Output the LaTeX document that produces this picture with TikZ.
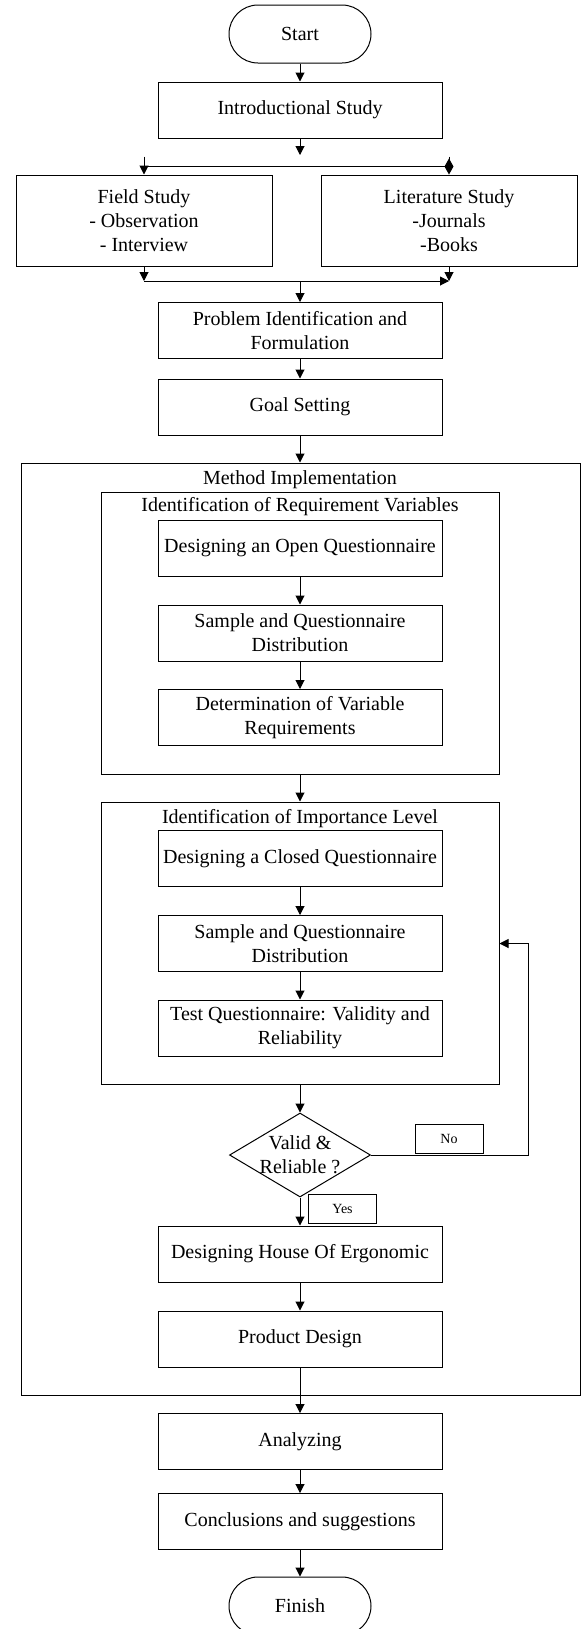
\documentclass[tikz,border=0pt]{standalone}
\usepackage{fontspec}
\setmainfont{Liberation Serif}
\usetikzlibrary{arrows.meta, shapes.geometric}

\begin{document}
\begin{tikzpicture}[x=0.5pt, y=-0.5pt, line width=0.5pt,
    >={Triangle[length=4.5pt,width=4.5pt]},
    every node/.style={font=\fontsize{10}{12}\selectfont},
    box/.style={draw, align=center, inner sep=0pt, minimum width=142pt, minimum height=28pt},
    term/.style={draw, inner sep=0pt, minimum width=71pt, minimum height=29pt, rounded corners=14.5pt},
    study/.style={draw, align=center, inner sep=0pt, minimum width=128pt, minimum height=45.5pt},
    frame/.style={draw, inner sep=0pt},
    tag/.style={draw, inner sep=0pt, minimum width=34pt, minimum height=14.5pt, font=\fontsize{7}{8}\selectfont},
    decision/.style={draw, diamond, inner sep=0pt, minimum width=70.5pt, minimum height=42pt}]

    % picture size, in pixels of the reference
    \useasboundingbox (0,0) rectangle (584,1629);

    % top part
    \node[term] (start) at (300,34) {Start};
    \node[box] (intro) at (300,110) {Introductional Study};
    \node[study] (field) at (144,220.5) {Field Study\\- Observation\\ - Interview};
    \node[study] (lit) at (449,220.5) {Literature Study\\-Journals\\-Books};
    \node[box] (problem) at (300,330.5) {Problem Identification and\\Formulation};
    \node[box] (goal) at (300,407) {Goal Setting};

    % fork and join around the two studies
    \coordinate (split) at (300,155);
    \coordinate (barL) at (144,166);
    \coordinate (barR) at (449,166);
    \coordinate (joinL) at (144,281);
    \coordinate (joinR) at (449,281);
    \coordinate (joinC) at (300,281);

    \draw[->] (start) -- (intro);
    \draw[->] (intro) -- (split);
    \draw (barL) -- (barR);
    \draw[->] ([yshift=9pt]field.north) -- (field.north);
    \draw[-{Diamond[length=8pt,width=4.5pt]}] ([yshift=9pt]lit.north) -- (lit.north);
    \draw[->] (field.south) -- (joinL);
    \draw[->] (lit.south) -- (joinR);
    \draw[->] (joinL) -- (joinR);
    \draw[->] (joinC) -- (problem);
    \draw[->] (problem) -- (goal);

    % method implementation frames
    \node[frame, minimum width=279.5pt, minimum height=466pt] (method) at (300.5,929) {};
    \node (methodT) at (300,480) {Method Implementation};
    \node[frame, minimum width=199pt, minimum height=141pt] (reqvar) at (300,633) {};
    \node (reqvarT) at (300,507) {Identification of Requirement Variables};
    \node[frame, minimum width=199pt, minimum height=141pt] (imp) at (300,943) {};
    \node (impT) at (300,819) {Identification of Importance Level};

    % steps inside the frames
    \node[box] (open) at (300,548) {Designing an Open Questionnaire};
    \node[box] (sampleA) at (300,633) {Sample and Questionnaire\\Distribution};
    \node[box] (determ) at (300,717.5) {Determination of Variable\\Requirements};
    \node[box] (closed) at (300,858.5) {Designing a Closed Questionnaire};
    \node[box] (sampleB) at (300,943.5) {Sample and Questionnaire\\Distribution};
    \node[box] (test) at (300,1028) {Test Questionnaire: Validity and\\Reliability};
    \node[decision, label={[align=center]center:Valid \&\\Reliable ?}] (valid) at (300,1155) {};
    \node[tag] (no) at (449,1138.5) {No};
    \node[tag] (yes) at (342.5,1208.5) {Yes};
    \node[box] (house) at (300,1254) {Designing House Of Ergonomic};
    \node[box] (product) at (300,1339) {Product Design};

    \draw[->] (goal) -- (goal.south |- method.north);
    \draw[->] (open) -- (sampleA);
    \draw[->] (sampleA) -- (determ);
    \draw[->] (reqvar) -- (imp);
    \draw[->] (closed) -- (sampleB);
    \draw[->] (sampleB) -- (test);
    \draw[->] (imp) -- (valid);
    \draw[->] (valid) -- (house);
    \draw[->] (house) -- (product);

    % loop back when not valid
    \coordinate (back) at (528,943.5);
    \draw[->] (valid.east) -| (back) -- (back -| imp.east);

    % bottom part
    \node[box] (analyze) at (300,1441.5) {Analyzing};
    \node[box] (concl) at (300,1521.5) {Conclusions and suggestions};
    \node[term] (finish) at (300,1606) {Finish};

    \draw[->] (product) -- (analyze);
    \draw[->] (analyze) -- (concl);
    \draw[->] (concl) -- (finish);

\end{tikzpicture}
\end{document}
